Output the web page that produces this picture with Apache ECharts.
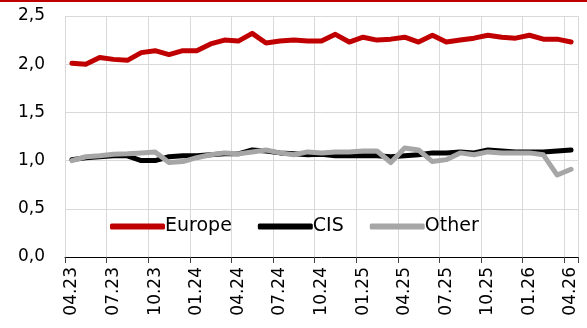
<!DOCTYPE html>
<html>
<head>
<meta charset="utf-8">
<script src="https://cdn.jsdelivr.net/npm/echarts@6/dist/echarts.min.js"></script>
<style>
  html, body { margin: 0; padding: 0; background: #fff; }
  #chart { width: 587px; height: 328px; }
</style>
</head>
<body>
<div id="chart"></div>
<script>
// месяцы (мм.гг)
var months = [
  '04.23', '05.23', '06.23', '07.23', '08.23', '09.23', '10.23', '11.23', '12.23',
  '01.24', '02.24', '03.24', '04.24', '05.24', '06.24', '07.24', '08.24', '09.24',
  '10.24', '11.24', '12.24', '01.25', '02.25', '03.25', '04.25', '05.25', '06.25',
  '07.25', '08.25', '09.25', '10.25', '11.25', '12.25', '01.26', '02.26', '03.26',
  '04.26'
]

var europe = [
  2.01, 2.00, 2.07, 2.05, 2.04, 2.12, 2.14, 2.10, 2.14, 2.14, 2.21, 2.25, 2.24,
  2.32, 2.22, 2.24, 2.25, 2.24, 2.24, 2.31, 2.23, 2.28, 2.25, 2.26, 2.28, 2.23,
  2.30, 2.23, 2.25, 2.27, 2.30, 2.28, 2.27, 2.30, 2.26, 2.26, 2.23
]
var cis = [
  1.01, 1.03, 1.04, 1.05, 1.05, 1.00, 1.00, 1.04, 1.05, 1.05, 1.06, 1.07, 1.07,
  1.11, 1.10, 1.08, 1.07, 1.06, 1.065, 1.05, 1.05, 1.05, 1.05, 1.04, 1.05, 1.06,
  1.08, 1.08, 1.09, 1.08, 1.11, 1.10, 1.09, 1.09, 1.09, 1.10, 1.11
]
var other = [
  1.00, 1.04, 1.05, 1.065, 1.07, 1.08, 1.09, 0.98, 0.99, 1.03, 1.06, 1.08, 1.07,
  1.09, 1.11, 1.08, 1.06, 1.09, 1.08, 1.09, 1.09, 1.10, 1.10, 0.98, 1.13, 1.11,
  0.99, 1.01, 1.08, 1.06, 1.09, 1.08, 1.08, 1.08, 1.06, 0.85, 0.91
]

var seriesNames = ['Europe', 'CIS', 'Other']
var seriesColors = ['#c00000', '#000000', '#a6a6a6']

var font = 'DejaVu Sans'

var myChart = echarts.init(document.getElementById('chart'))

// каждый третий месяц, без линии на правом краю
function everyThird(index) {
  return index % 3 === 0 && index < months.length
}

function makeLine(name, data, color) {
  return {
    name: name,
    type: 'line',
    data: data,
    showSymbol: false,
    symbol: 'none',
    smooth: false,
    color: color,
    lineStyle: { color: color, width: 5, cap: 'round', join: 'round' },
    animation: false
  }
}

var option = {
  animation: false,
  graphic: [
    {
      type: 'rect',
      left: 0,
      top: 0,
      shape: { width: 587, height: 2 },
      style: { fill: '#c00000' }
    }
  ],
  grid: {
    left: 65,
    right: 9,
    top: 16,
    bottom: 71
  },
  legend: {
    left: 105,
    top: 212,
    itemWidth: 55,
    itemHeight: 6,
    itemGap: 26,
    icon: 'roundRect',
    textStyle: {
      fontFamily: font,
      fontSize: 19,
      color: '#000',
      padding: [0, 0, 0, -5]
    },
    data: seriesNames
  },
  xAxis: {
    type: 'category',
    data: months,
    boundaryGap: true,
    axisLine: {
      show: true,
      lineStyle: { color: '#000', width: 1 }
    },
    axisTick: {
      show: true,
      interval: everyThird,
      length: 6,
      lineStyle: { color: '#404040' }
    },
    axisLabel: {
      interval: 2,
      rotate: 90,
      margin: 10,
      fontFamily: font,
      fontSize: 17,
      color: '#000'
    },
    splitLine: {
      show: true,
      interval: everyThird,
      lineStyle: { color: '#d9d9d9', width: 1 }
    }
  },
  yAxis: {
    type: 'value',
    min: 0,
    max: 2.5,
    interval: 0.5,
    axisLine: { show: false },
    axisTick: { show: false },
    axisLabel: {
      margin: 20,
      fontFamily: font,
      fontSize: 17,
      color: '#000',
      formatter: function (v) {
        return v.toFixed(1).replace('.', ',')
      }
    },
    splitLine: {
      show: true,
      lineStyle: { color: '#d9d9d9', width: 1 }
    }
  },
  series: [
    makeLine(seriesNames[0], europe, seriesColors[0]),
    makeLine(seriesNames[1], cis, seriesColors[1]),
    makeLine(seriesNames[2], other, seriesColors[2])
  ]
}

myChart.setOption(option)
</script>
</body>
</html>
